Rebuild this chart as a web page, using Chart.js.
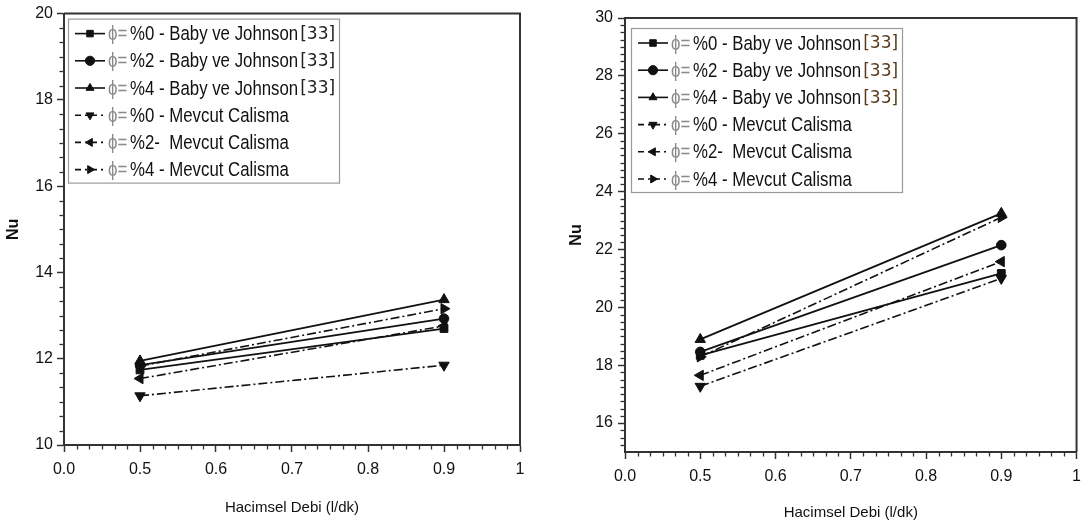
<!DOCTYPE html>
<html lang="tr">
<head>
<meta charset="UTF-8">
<title>Nu - Hacimsel Debi</title>
<style>
  html, body { margin: 0; padding: 0; background: #fff; }
  .wrap { position: relative; width: 1089px; height: 526px; overflow: hidden; }
  .panel { position: absolute; top: 0; height: 526px; }
  #leftPanel { left: 0; width: 545px; }
  #rightPanel { left: 545px; width: 544px; }
</style>
</head>
<body>
<div class="wrap">
  <div class="panel" id="leftPanel"><canvas id="leftChart"></canvas></div>
  <div class="panel" id="rightPanel"><canvas id="rightChart"></canvas></div>
</div>
<script src="https://cdn.jsdelivr.net/npm/chart.js"></script>
<script>
// ---- data ----
const flowRates = [0.5, 0.9];
const xTickValues = [0.4, 0.5, 0.6, 0.7, 0.8, 0.9, 1.0];
const xTickLabels = ['0.0', '0.5', '0.6', '0.7', '0.8', '0.9', '1'];

const seriesNames = [
    '%0 - Baby ve Johnson',
    '%2 - Baby ve Johnson',
    '%4 - Baby ve Johnson',
    '%0 - Mevcut Calisma',
    '%2-  Mevcut Calisma',
    '%4 - Mevcut Calisma'
];
const refTags = ['[33]', '[33]', '[33]', '', '', ''];

// left panel
const leftYTicks = [10, 12, 14, 16, 18, 20];
const leftBaby0 = [11.74, 12.70];
const leftBaby2 = [11.85, 12.93];
const leftBaby4 = [11.95, 13.37];
const leftMevcut0 = [11.14, 11.85];
const leftMevcut2 = [11.54, 12.76];
const leftMevcut4 = [11.83, 13.16];

// right panel
const rightYTicks = [16, 18, 20, 22, 24, 26, 28, 30];
const rightBaby0 = [18.34, 21.17];
const rightBaby2 = [18.46, 22.15];
const rightBaby4 = [18.89, 23.25];
const rightMevcut0 = [17.27, 21.00];
const rightMevcut2 = [17.65, 21.58];
const rightMevcut4 = [18.29, 23.11];

// ---- styling ----
const sans = "'Liberation Sans', Arial, sans-serif";
const ink = '#111';
const axisColor = '#333';
const dashDot = [9, 3, 2, 3];

const markers = [
    { style: 'rect', rot: 0, r: 5.5 },
    { style: 'circle', rot: 0, r: 4.8 },
    { style: 'triangle', rot: 0, r: 6 },
    { style: 'triangle', rot: 180, r: 6 },
    { style: 'triangle', rot: 270, r: 6 },
    { style: 'triangle', rot: 90, r: 6 }
];

function drawMarker(ctx, style, rot, r, x, y) {
    if (Chart.helpers && Chart.helpers.drawPoint) {
        Chart.helpers.drawPoint(ctx, { pointStyle: style, rotation: rot, radius: r, borderWidth: 1 }, x, y);
        return;
    }
    ctx.beginPath();
    ctx.arc(x, y, r, 0, Math.PI * 2);
    ctx.fill();
}

// condensed-looking text: squeeze horizontally
function narrowText(ctx, text, x, y, squeeze) {
    ctx.save();
    ctx.translate(x, y);
    ctx.scale(squeeze, 1);
    ctx.fillText(text, 0, 0);
    const w = ctx.measureText(text).width * squeeze;
    ctx.restore();
    return w;
}

// frame on top/right + minor ticks
const framePlugin = {
    id: 'frame',
    afterDraw(chart, args, opts) {
        const { ctx, chartArea: a, scales } = chart;
        ctx.save();
        ctx.strokeStyle = axisColor;
        ctx.lineWidth = 2;
        ctx.beginPath();
        ctx.moveTo(a.left, a.top);
        ctx.lineTo(a.right, a.top);
        ctx.lineTo(a.right, a.bottom);
        ctx.stroke();

        ctx.lineWidth = 1.3;
        const x = scales.x, y = scales.y;
        const nx = Math.round((x.max - x.min) / opts.xMinor);
        for (let i = 1; i < nx; i++) {
            const v = x.min + i * opts.xMinor;
            if (xTickValues.some(t => Math.abs(t - v) < 1e-6)) continue;
            const px = Math.round(x.getPixelForValue(v)) + 0.5;
            ctx.beginPath();
            ctx.moveTo(px, a.bottom);
            ctx.lineTo(px, a.bottom + 4.5);
            ctx.stroke();
        }
        const ny = Math.round((y.max - y.min) / opts.yMinor);
        for (let i = 1; i < ny; i++) {
            const v = y.min + i * opts.yMinor;
            if (opts.yMajor.some(t => Math.abs(t - v) < 1e-6)) continue;
            const py = Math.round(y.getPixelForValue(v)) + 0.5;
            ctx.beginPath();
            ctx.moveTo(a.left - 4.5, py);
            ctx.lineTo(a.left, py);
            ctx.stroke();
        }
        ctx.restore();
    }
};

// legend box drawn inside the plot area
const boxLegendPlugin = {
    id: 'boxLegend',
    afterDatasetsDraw(chart, args, opts) {
        const { ctx, chartArea: a } = chart;
        const bx = a.left + opts.dx, by = a.top + opts.dy;
        ctx.save();
        ctx.fillStyle = '#fff';
        ctx.fillRect(bx, by, opts.w, opts.h);
        ctx.strokeStyle = '#9a9a9a';
        ctx.lineWidth = 1.2;
        ctx.strokeRect(bx + 0.5, by + 0.5, opts.w, opts.h);

        chart.data.datasets.forEach((ds, i) => {
            const cy = by + 15 + i * 27.2;
            ctx.strokeStyle = ink;
            ctx.lineWidth = 1.6;
            ctx.setLineDash(ds.borderDash.length ? [6, 4, 2, 4] : []);
            ctx.beginPath();
            ctx.moveTo(bx + 7, cy);
            ctx.lineTo(bx + 37, cy);
            ctx.stroke();
            ctx.setLineDash([]);
            ctx.fillStyle = ink;
            ctx.strokeStyle = ink;
            ctx.lineWidth = 1;
            drawMarker(ctx, ds.pointStyle, ds.pointRotation, 4.6, bx + 22, cy);

            ctx.textBaseline = 'middle';
            ctx.textAlign = 'left';
            ctx.font = '20.5px ' + sans;
            ctx.fillStyle = '#8a8a8a';
            narrowText(ctx, '\u03D5=', bx + 40, cy + 1, 0.82);
            ctx.fillStyle = ink;
            const w = narrowText(ctx, seriesNames[i], bx + 62, cy + 1, 0.82);
            if (refTags[i]) {
                ctx.font = '17px "DejaVu Sans", sans-serif';
                ctx.fillStyle = opts.refColor;
                ctx.fillText(refTags[i], bx + 62 + w + 2, cy + 1);
            }
        });
        ctx.restore();
    }
};

function buildDatasets(seriesValues) {
    return seriesValues.map((vals, i) => ({
        label: seriesNames[i],
        data: flowRates.map((x, k) => ({ x: x, y: vals[k] })),
        borderColor: ink,
        backgroundColor: ink,
        borderWidth: i < 3 ? 1.8 : 1.6,
        borderDash: i < 3 ? [] : dashDot,
        pointStyle: markers[i].style,
        pointRotation: markers[i].rot,
        pointRadius: markers[i].r,
        pointBackgroundColor: ink,
        pointBorderColor: ink,
        pointBorderWidth: 1,
        fill: false,
        tension: 0
    }));
}

function makeChart(canvasId, seriesValues, yMin, yMax, yTicks, cfg) {
    const tickFont = { family: sans, size: 16 };
    return new Chart(document.getElementById(canvasId), {
        type: 'line',
        data: { datasets: buildDatasets(seriesValues) },
        options: {
            responsive: true,
            maintainAspectRatio: false,
            animation: false,
            layout: { padding: { top: cfg.top, right: cfg.right, left: 0, bottom: 0 } },
            plugins: {
                legend: { display: false },
                tooltip: { enabled: false },
                frame: { xMinor: 0.1 / 6, yMinor: cfg.yMinor, yMajor: yTicks },
                boxLegend: { dx: cfg.legendDx, dy: cfg.legendDy, w: 271, h: 164, refColor: cfg.refColor }
            },
            scales: {
                x: {
                    type: 'linear',
                    min: 0.4,
                    max: 1.0,
                    afterBuildTicks: s => { s.ticks = xTickValues.map(v => ({ value: v })); },
                    afterFit: s => { s.height = cfg.xHeight; },
                    ticks: {
                        autoSkip: false,
                        maxRotation: 0,
                        padding: 8,
                        color: ink,
                        font: tickFont,
                        callback: v => xTickLabels[xTickValues.findIndex(t => Math.abs(t - v) < 1e-6)]
                    },
                    grid: { drawOnChartArea: false, tickLength: 7, tickColor: axisColor, tickWidth: 1.5 },
                    border: { color: axisColor, width: 2 },
                    title: {
                        display: true,
                        text: 'Hacimsel Debi (l/dk)',
                        color: ink,
                        font: { family: sans, size: 15 },
                        padding: { top: 0, bottom: cfg.xTitlePad }
                    }
                },
                y: {
                    type: 'linear',
                    min: yMin,
                    max: yMax,
                    afterBuildTicks: s => { s.ticks = yTicks.map(v => ({ value: v })); },
                    afterFit: s => { s.width = cfg.yWidth; },
                    ticks: { padding: cfg.yTickPad, color: ink, font: tickFont },
                    grid: { drawOnChartArea: false, tickLength: 7, tickColor: axisColor, tickWidth: 1.5 },
                    border: { color: axisColor, width: 2 },
                    title: {
                        display: true,
                        text: 'Nu',
                        color: ink,
                        font: { family: sans, size: 16, weight: 'bold' },
                        padding: { top: cfg.yTitlePad, bottom: 0 }
                    }
                }
            }
        },
        plugins: [framePlugin, boxLegendPlugin]
    });
}

makeChart('leftChart',
    [leftBaby0, leftBaby2, leftBaby4, leftMevcut0, leftMevcut2, leftMevcut4],
    10, 20, leftYTicks,
    { top: 13, right: 25, xHeight: 81, yWidth: 64, yMinor: 1 / 3, yTickPad: 4,
      xTitlePad: 9, yTitlePad: 4, legendDx: 4, legendDy: 5, refColor: '#222' });

makeChart('rightChart',
    [rightBaby0, rightBaby2, rightBaby4, rightMevcut0, rightMevcut2, rightMevcut4],
    15, 30, rightYTicks,
    { top: 18, right: 11, xHeight: 74, yWidth: 80, yMinor: 0.25, yTickPad: 5,
      xTitlePad: 4, yTitlePad: 22, legendDx: 6, legendDy: 10, refColor: '#5a3a1a' });
</script>
</body>
</html>
